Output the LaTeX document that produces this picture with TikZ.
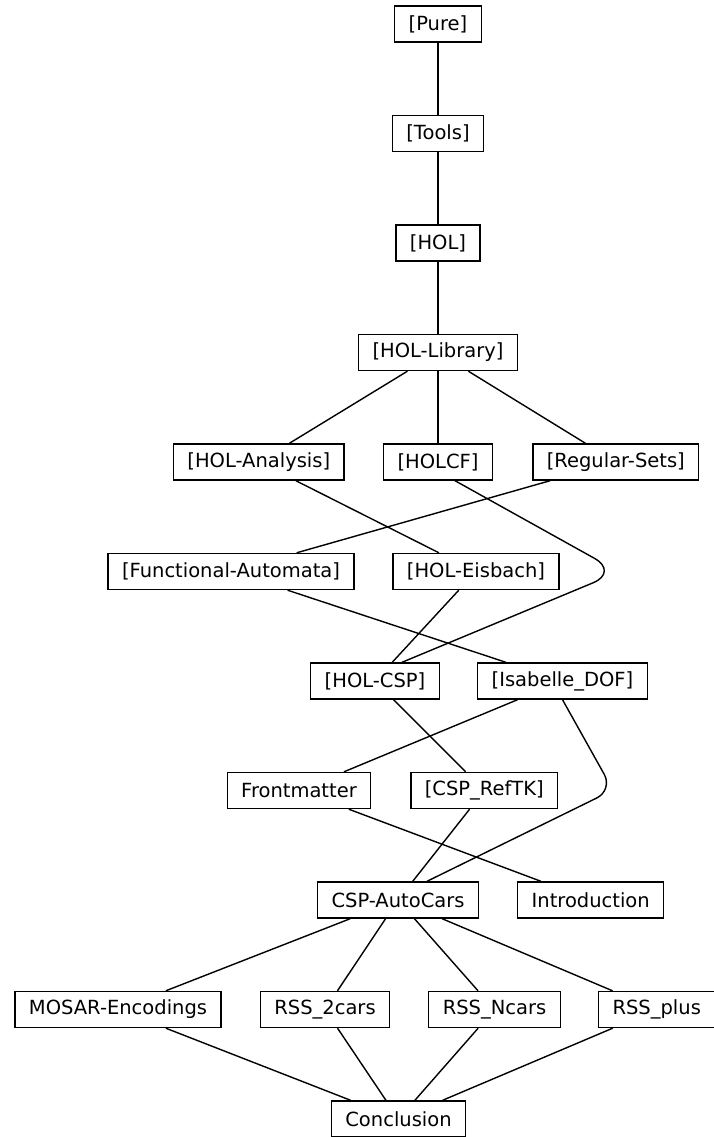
\documentclass[tikz,border=0pt]{standalone}
\usepackage{fontspec}
\setmainfont{DejaVu Sans}
\usetikzlibrary{positioning}
\tikzset{
        treenode/.style={align=center,inner xsep=14pt,inner ysep=0pt,font=\fontsize{19.5}{23}\selectfont},
        % Session nodes
        node_session/.style={treenode, rectangle, black, draw=black, fill=white, minimum height=36pt},
        % Theory nodes
        node_theory/.style={treenode, rectangle, black, draw=black, fill=white, minimum height=36pt}
}
\begin{document}
\begin{tikzpicture}[
            x=1pt, y=-1pt,
            line width=1.4pt
        ]
            \useasboundingbox (0,0) rectangle (713,1137);
            % Sessions
            \node[node_session] (pure) at (438,24) {[Pure]};
            \node[node_session] (tools) at (438,133.5) {[Tools]};
            \node[node_session] (hol) at (438,243) {[HOL]};
            \node[node_session] (hollib) at (438,352.5) {[HOL-Library]};
            \node[node_session] (holanalysis) at (258.8,462) {[HOL-Analysis]};
            \node[node_session] (holcf) at (438,462) {[HOLCF]};
            \node[node_session] (regsets) at (615.8,462) {[Regular-Sets]};
            \node[node_session] (funaut) at (231,571.5) {[Functional-Automata]};
            \node[node_session] (eisbach) at (476,571.5) {[HOL-Eisbach]};
            \node[node_session] (holcsp) at (375,681) {[HOL-CSP]};
            \node[node_session] (isadof) at (562.5,681) {[Isabelle\_DOF]};
            \node[node_session] (reftk) at (484.3,790.5) {[CSP\_RefTK]};
            % Theories
            \node[node_theory] (front) at (299,790.5) {Frontmatter};
            \node[node_theory] (autocars) at (398,900) {CSP-AutoCars};
            \node[node_theory] (intro) at (590.7,900) {Introduction};
            \node[node_theory] (mosar) at (118,1009.5) {MOSAR-Encodings};
            \node[node_theory] (rsstwo) at (325,1009.5) {RSS\_2cars};
            \node[node_theory] (rssn) at (494.5,1009.5) {RSS\_Ncars};
            \node[node_theory] (rssplus) at (656.7,1009.5) {RSS\_plus};
            \node[node_theory] (concl) at (398.5,1119) {Conclusion};
            % Bends
            \coordinate (bend_holcf) at (619,572);
            \coordinate (bend_dof) at (613,790);

            \draw (pure) -- (tools);
            \draw (tools) -- (hol);
            \draw (hol) -- (hollib);
            \draw (hollib) -- (holanalysis);
            \draw (hollib) -- (holcf);
            \draw (hollib) -- (regsets);
            \draw (holanalysis) -- (eisbach);
            \draw (regsets) -- (funaut);
            \draw[rounded corners=28pt] ([xshift=17pt]holcf.south) -- (bend_holcf) -- ([xshift=27pt]holcsp.north);
            \draw (eisbach) -- (holcsp);
            \draw (funaut) -- (isadof);
            \draw (holcsp) -- (reftk);
            \draw (isadof) -- (front);
            \draw[rounded corners=18pt] (isadof.south) -- (bend_dof) -- ([xshift=29pt]autocars.north);
            \draw (reftk) -- (autocars);
            \draw (front) -- (intro);
            \draw (autocars) -- (mosar);
            \draw (autocars) -- (rsstwo);
            \draw (autocars) -- (rssn);
            \draw (autocars) -- (rssplus);
            \draw (mosar) -- (concl);
            \draw (rsstwo) -- (concl);
            \draw (rssn) -- (concl);
            \draw (rssplus) -- (concl);
        \end{tikzpicture}
\end{document}
